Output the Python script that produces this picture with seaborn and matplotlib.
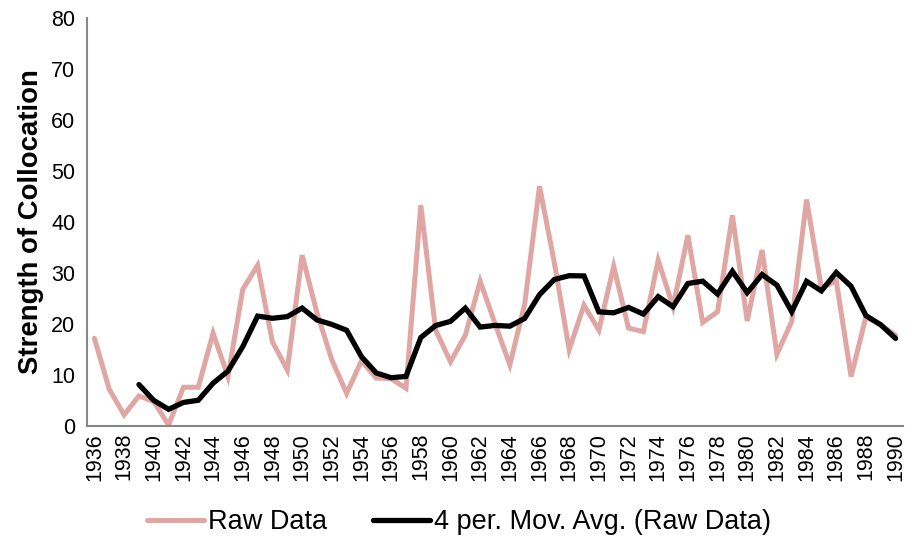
import numpy as np
import pandas as pd
import matplotlib
matplotlib.use("Agg")
import matplotlib.pyplot as plt
import seaborn as sns

years = list(range(1936, 1991))
raw_values = [17.2, 7.2, 2.2, 5.9, 4.8, 0.2, 7.6, 7.6, 18.2, 9.7,
              26.8, 31.5, 16.5, 11.0, 33.5, 22.2, 13.0, 6.4, 12.8, 9.4,
              9.3, 7.4, 43.3, 18.8, 12.6, 17.8, 28.4, 20.1, 12.0, 23.9,
              47.0, 32.0, 15.0, 23.7, 18.8, 31.3, 19.2, 18.5, 32.5, 23.4,
              37.4, 20.3, 22.4, 41.3, 20.6, 34.5, 14.1, 20.5, 44.4, 27.0,
              28.5, 9.7, 21.4, 19.8, 17.8]
ma_period = 4
series_names = ["Raw Data", "4 per. Mov. Avg. (Raw Data)"]
y_ticks = [0, 10, 20, 30, 40, 50, 60, 70, 80]
y_label = "Strength of Collocation"

df = pd.DataFrame({"year": years, "raw": raw_values})
df["ma"] = df["raw"].rolling(ma_period).mean()

sns.set_style("white")
plt.rcParams["font.family"] = ["Liberation Sans", "DejaVu Sans"]
plt.rcParams["text.color"] = "black"
plt.rcParams["xtick.labelcolor"] = "black"
plt.rcParams["ytick.labelcolor"] = "black"
plt.rcParams["axes.labelcolor"] = "black"

fig = plt.figure(figsize=(9.09, 5.45), dpi=100)
ax = fig.add_axes([0.0957, 0.2183, 0.8977, 0.7487])

pink = "#DFA6A4"
sns.lineplot(data=df, x="year", y="raw", ax=ax, color=pink, linewidth=3.6,
             label=series_names[0], solid_joinstyle="miter")
sns.lineplot(data=df.dropna(), x="year", y="ma", ax=ax, color="black", linewidth=3.8,
             label=series_names[1], solid_joinstyle="miter")

ax.set_xlim(years[0] - 0.5, years[-1] + 0.5)
ax.set_ylim(0, 80)
ax.set_yticks(y_ticks)
ax.set_yticklabels([str(t) for t in y_ticks], fontsize=15.5, color="black")
ax.set_xticks(years[::2])
ax.set_xticklabels([str(y) for y in years[::2]], rotation=90, fontsize=15.5, color="black")
ax.set_xticks([y - 0.5 for y in years] + [years[-1] + 0.5], minor=True)
ax.tick_params(axis="x", which="major", length=0, pad=5)
ax.tick_params(axis="x", which="minor", length=4.5, width=1.2, color="#888888", direction="out")
ax.tick_params(axis="y", which="major", length=4.5, width=1.2, color="#888888", direction="out", pad=4)
ax.set_xlabel("")
ax.set_ylabel(y_label, fontsize=19.8, fontweight="bold", labelpad=5, color="black")

for s in ["top", "right"]:
    ax.spines[s].set_visible(False)
for s in ["left", "bottom"]:
    ax.spines[s].set_color("#888888")
    ax.spines[s].set_linewidth(1.5)
ax.grid(False)

handles, labels = ax.get_legend_handles_labels()
ax.get_legend().remove()
leg = fig.legend(handles, labels, loc="center", bbox_to_anchor=(0.505, 0.042), ncol=2,
                 frameon=False, fontsize=19.5, handlelength=2.1, handletextpad=0.15,
                 columnspacing=1.7)
for t in leg.get_texts():
    t.set_color("black")

fig.savefig("out.png", dpi=100)
